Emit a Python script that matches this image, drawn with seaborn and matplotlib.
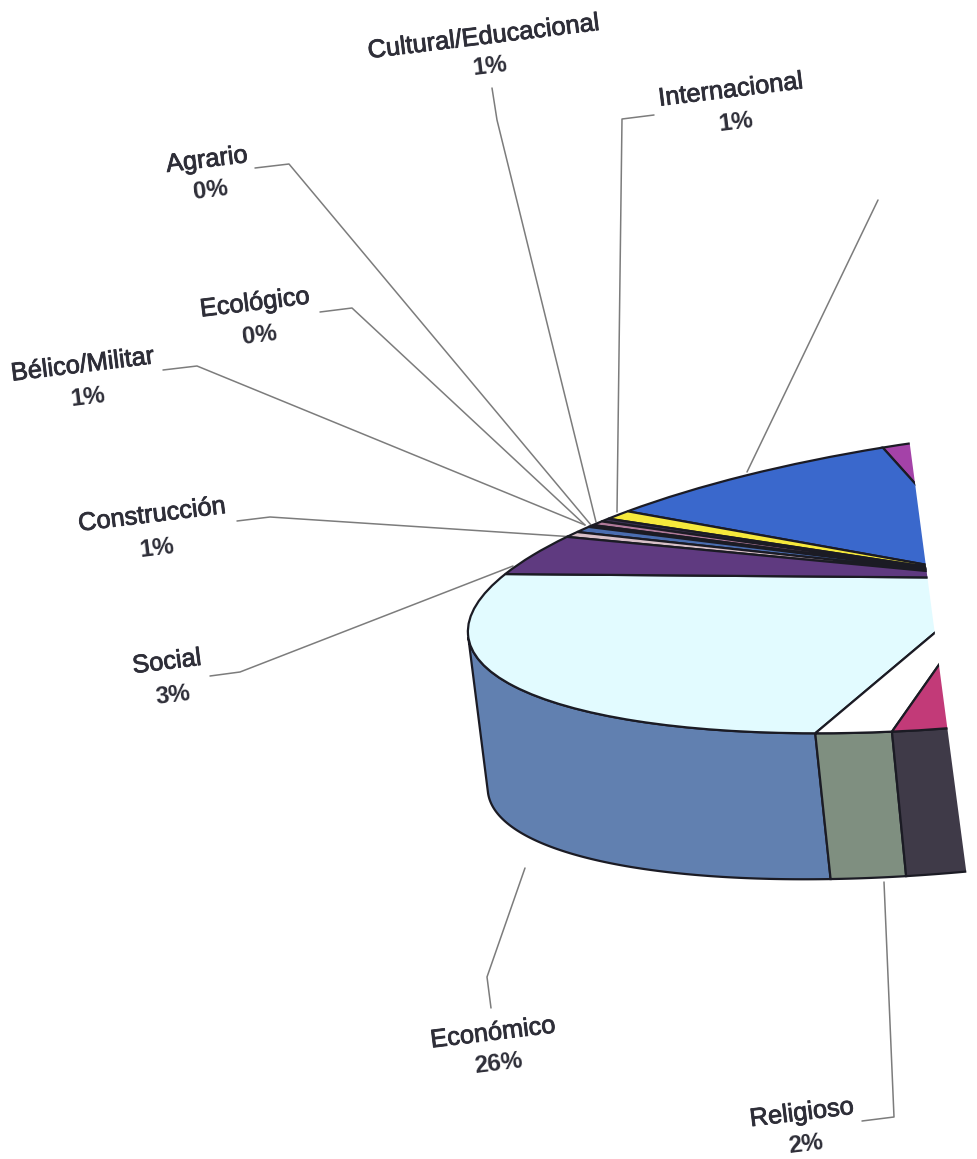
import numpy as np
import matplotlib
matplotlib.use("Agg")
import matplotlib.pyplot as plt
import matplotlib.patheffects as pe
from matplotlib.transforms import Affine2D
from matplotlib.patches import Polygon
import seaborn as sns

# Slice shares in drawing order, counter-clockwise from the left of the pie
categories = ["Económico", "Religioso", "Magenta", "Púrpura", "Azul", "Internacional",
              "Cultural/Educacional", "Agrario", "Ecológico", "Bélico/Militar", "Construcción", "Social"]
shares = [25.36, 2.39, 25.6, 31.19, 8.8, 0.83, 0.3, 0.4, 0.2, 0.55, 0.52, 3.86]
top_colors = ["#e2fbff", "#ffffff", "#c23a78", "#a442a8", "#3a68cc", "#f6e93c",
              "#3a3050", "#b07a9a", "#3a3050", "#4a6db0", "#d8c0c8", "#5f3a80"]
side_colors = ["#6180b0", "#7f8f80", "#3f3a48"]

label_names = ["Cultural/Educacional", "Internacional", "Agrario", "Ecológico", "Bélico/Militar",
               "Construcción", "Social", "Económico", "Religioso"]
label_pcts = ["1%", "1%", "0%", "0%", "1%", "1%", "3%", "26%", "2%"]
name_xy = [(484, 37), (731, 90), (207, 160), (255, 303), (83, 365), (152, 515), (167, 662), (493, 1033), (802, 1113)]
pct_xy = [(490, 66), (736, 122), (211, 190), (260, 335), (88, 397), (157, 548), (173, 695), (498, 1064), (806, 1144)]
leaders = [
    [(492, 88), (497, 120), (596, 522)],
    [(654, 115), (622, 119), (617, 512)],
    [(878, 200), (747, 472)],
    [(255, 168), (289, 164), (591, 525)],
    [(320, 312), (352, 308), (585, 525)],
    [(163, 370), (197, 366), (585, 525)],
    [(237, 521), (270, 517), (575, 537)],
    [(210, 676), (240, 672), (513, 566)],
    [(491, 1008), (487, 977), (525, 868)],
    [(862, 1121), (894, 1117), (884, 882)],
]
page_edge = [(904, 400), (977, 953), (977, 1159), (0, 1159), (0, 0), (904, 0)]

sns.set_theme(style="white")
plt.rcParams["font.family"] = ["Liberation Sans", "DejaVu Sans"]
fig = plt.figure(figsize=(9.77, 11.59), dpi=100)
ax = fig.add_axes([0, 0, 1, 1])

START = 156.7
EDGE = "#1b1b24"
top_tf = Affine2D().scale(535, 145).rotate_deg(6.2).scale(1, -1).translate(1000, 578)
bottom_tf = Affine2D().scale(527, 138).rotate_deg(7).scale(1, -1).translate(1011, 728)

wedges, _ = ax.pie(shares, colors=sns.color_palette(top_colors), startangle=START, counterclock=True,
                   wedgeprops=dict(edgecolor=EDGE, linewidth=1.6))
ax.set_aspect("auto")
ax.set_xlim(0, 977)
ax.set_ylim(1159, 0)
ax.axis("off")

clip = Polygon(page_edge, closed=True, transform=ax.transData, fill=False, edgecolor="none")
ax.add_patch(clip)

for w in wedges:
    w.set_transform(top_tf + ax.transData)
    w.set_clip_on(True)
    w.set_clip_path(clip)
    w.set_zorder(3)

def rim(tf, t_deg):
    t = np.radians(t_deg)
    return tf.transform(np.column_stack([np.cos(t), np.sin(t)]))

# Left silhouette: the rim point where the depth direction is tangent
grid = np.linspace(START, 250, 500)
pts = rim(top_tf, grid)
normal = np.array([165.0, -22.0])
t0 = grid[np.argmin(pts @ normal)]

bounds = START + np.cumsum(shares) * 3.6
side_starts = [t0, bounds[0], bounds[1]]
side_ends = [bounds[0], bounds[1], bounds[2]]
for s, e, c in zip(side_starts, side_ends, side_colors):
    ts = np.linspace(s, e, 200)
    poly = np.vstack([rim(top_tf, ts), rim(bottom_tf, ts)[::-1]])
    p = Polygon(poly, closed=True, facecolor=c, edgecolor=EDGE, linewidth=1.6, zorder=2, transform=ax.transData)
    ax.add_patch(p)
    p.set_clip_path(clip)

for pts_ in leaders:
    xs, ys = zip(*pts_)
    ax.plot(xs, ys, color="#7c7c7c", lw=1.1, zorder=1, solid_capstyle="round")

txt = dict(ha="center", va="center", rotation=7, rotation_mode="anchor", color="#2e2e38")
heavier = [pe.withStroke(linewidth=0.6, foreground="#2e2e38")]
for name, pct, nxy, pxy in zip(label_names, label_pcts, name_xy, pct_xy):
    ax.text(*nxy, name, fontsize=18.3, path_effects=heavier, **txt)
    ax.text(*pxy, pct, fontsize=17.5, fontweight="bold", **txt)

fig.savefig("out.png", dpi=100)
